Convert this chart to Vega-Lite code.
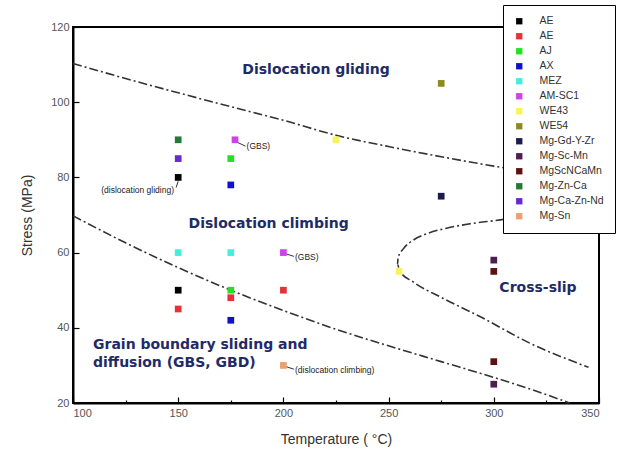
{
  "$schema": "https://vega.github.io/schema/vega-lite/v6.json",
  "autosize": {"type": "none"},
  "width": 526,
  "height": 376,
  "padding": {"left": 73, "top": 27, "right": 23, "bottom": 61},
  "background": "white",
  "config": {
    "view": {"stroke": "black", "strokeWidth": 2},
    "font": "Liberation Sans"
  },
  "datasets": {
    "curves": [
      {"curve": "upper", "ord": 1, "t": 100, "s": 110.3},
      {"curve": "upper", "ord": 2, "t": 125, "s": 106.3},
      {"curve": "upper", "ord": 3, "t": 150, "s": 102.5},
      {"curve": "upper", "ord": 4, "t": 175, "s": 98.8},
      {"curve": "upper", "ord": 5, "t": 200, "s": 95.2},
      {"curve": "upper", "ord": 6, "t": 225, "s": 91.2},
      {"curve": "upper", "ord": 7, "t": 250, "s": 88.2},
      {"curve": "upper", "ord": 8, "t": 275, "s": 85.5},
      {"curve": "upper", "ord": 9, "t": 300, "s": 83.0},
      {"curve": "upper", "ord": 10, "t": 325, "s": 80.8},
      {"curve": "upper", "ord": 11, "t": 350, "s": 78.7},
      {"curve": "lower", "ord": 1, "t": 100, "s": 69.8},
      {"curve": "lower", "ord": 2, "t": 125, "s": 62.6},
      {"curve": "lower", "ord": 3, "t": 150, "s": 56.0},
      {"curve": "lower", "ord": 4, "t": 175, "s": 50.0},
      {"curve": "lower", "ord": 5, "t": 200, "s": 44.6},
      {"curve": "lower", "ord": 6, "t": 225, "s": 39.6},
      {"curve": "lower", "ord": 7, "t": 250, "s": 35.2},
      {"curve": "lower", "ord": 8, "t": 275, "s": 31.0},
      {"curve": "lower", "ord": 9, "t": 300, "s": 26.8},
      {"curve": "lower", "ord": 10, "t": 320, "s": 23.2},
      {"curve": "lower", "ord": 11, "t": 336, "s": 20.0},
      {"curve": "cross", "ord": 1, "t": 345, "s": 72.4},
      {"curve": "cross", "ord": 2, "t": 320, "s": 70.2},
      {"curve": "cross", "ord": 3, "t": 303, "s": 68.7},
      {"curve": "cross", "ord": 4, "t": 288, "s": 67.6},
      {"curve": "cross", "ord": 5, "t": 277.6, "s": 66.5},
      {"curve": "cross", "ord": 6, "t": 268, "s": 65.0},
      {"curve": "cross", "ord": 7, "t": 261.7, "s": 63.3},
      {"curve": "cross", "ord": 8, "t": 257, "s": 61.0},
      {"curve": "cross", "ord": 9, "t": 254.5, "s": 58.6},
      {"curve": "cross", "ord": 10, "t": 254.2, "s": 56.8},
      {"curve": "cross", "ord": 11, "t": 255.4, "s": 55.0},
      {"curve": "cross", "ord": 12, "t": 261.7, "s": 52.2},
      {"curve": "cross", "ord": 13, "t": 276, "s": 47.8},
      {"curve": "cross", "ord": 14, "t": 293.4, "s": 43.0},
      {"curve": "cross", "ord": 15, "t": 317.2, "s": 35.9},
      {"curve": "cross", "ord": 16, "t": 345, "s": 29.5}
    ],
    "points": [
      {"alloy": "AE", "t": 150, "s": 80},
      {"alloy": "AE", "t": 150, "s": 50},
      {"alloy": "AE2", "t": 150, "s": 45},
      {"alloy": "AE2", "t": 175, "s": 48},
      {"alloy": "AE2", "t": 200, "s": 50},
      {"alloy": "AJ", "t": 175, "s": 85},
      {"alloy": "AJ", "t": 175, "s": 50},
      {"alloy": "AX", "t": 175, "s": 78},
      {"alloy": "AX", "t": 175, "s": 42},
      {"alloy": "MEZ", "t": 150, "s": 60},
      {"alloy": "MEZ", "t": 175, "s": 60},
      {"alloy": "AM-SC1", "t": 177, "s": 90},
      {"alloy": "AM-SC1", "t": 200, "s": 60},
      {"alloy": "WE43", "t": 225, "s": 90},
      {"alloy": "WE43", "t": 255, "s": 55},
      {"alloy": "WE54", "t": 275, "s": 105},
      {"alloy": "Mg-Gd-Y-Zr", "t": 275, "s": 75},
      {"alloy": "Mg-Sc-Mn", "t": 300, "s": 58},
      {"alloy": "Mg-Sc-Mn", "t": 300, "s": 25},
      {"alloy": "MgScNCaMn", "t": 300, "s": 55},
      {"alloy": "MgScNCaMn", "t": 300, "s": 31},
      {"alloy": "Mg-Zn-Ca", "t": 150, "s": 90},
      {"alloy": "Mg-Ca-Zn-Nd", "t": 150, "s": 85},
      {"alloy": "Mg-Sn", "t": 200, "s": 30}
    ],
    "leaders": [
      {"t": 177.5, "s": 89.5, "t2": 182, "s2": 88.3},
      {"t": 200.5, "s": 59.8, "t2": 205, "s2": 59.0},
      {"t": 200.5, "s": 29.8, "t2": 205, "s2": 29.0},
      {"t": 150, "s": 79, "t2": 149, "s2": 77.3}
    ],
    "regions": [
      {"label": "Dislocation gliding", "t": 215.5, "s": 108.6},
      {"label": "Dislocation climbing", "t": 193, "s": 67.6},
      {"label": "Cross-slip", "t": 321, "s": 50.6}
    ],
    "regionsLeft": [
      {"label": "Grain boundary sliding and", "t": 109.5, "s": 35.4},
      {"label": "diffusion (GBS, GBD)", "t": 109.5, "s": 30.6}
    ],
    "notesLeft": [
      {"label": "(GBS)", "t": 182.5, "s": 88.3},
      {"label": "(GBS)", "t": 205.5, "s": 58.8},
      {"label": "(dislocation climbing)", "t": 205.5, "s": 28.8}
    ],
    "notesRight": [
      {"label": "(dislocation gliding)", "t": 148, "s": 76.6}
    ]
  },
  "layer": [
    {
      "data": {"name": "curves"},
      "mark": {"type": "line", "color": "#333333", "strokeWidth": 1.6, "strokeDash": [9, 3, 2, 3], "interpolate": "monotone"},
      "encoding": {
        "x": {"field": "t", "type": "quantitative", "scale": {"domain": [100, 350], "nice": false},
          "axis": {
            "values": [100, 125, 150, 175, 200, 225, 250, 275, 300, 325, 350],
            "labelExpr": "datum.value % 50 === 0 ? datum.label : ''",
            "title": "Temperature ( °C)",
            "grid": false,
            "domainColor": "black", "domainWidth": 2,
            "tickColor": "black", "tickWidth": 1.2,
            "tickSize": {"condition": {"test": "datum.value % 50 === 0", "value": -6}, "value": -3},
            "labelFont": "Liberation Sans", "labelFontSize": 11, "labelColor": "#555555", "labelPadding": 10,
            "titleFont": "Liberation Sans", "titleFontSize": 14, "titleFontWeight": "normal", "titleColor": "#333333", "titlePadding": 14
          }
        },
        "y": {"field": "s", "type": "quantitative", "scale": {"domain": [20, 120], "nice": false},
          "axis": {
            "values": [20, 25, 30, 35, 40, 45, 50, 55, 60, 65, 70, 75, 80, 85, 90, 95, 100, 105, 110, 115, 120],
            "labelExpr": "datum.value % 10 === 0 ? datum.label : ''",
            "title": "Stress (MPa)",
            "grid": false,
            "domainColor": "black", "domainWidth": 2,
            "tickColor": "black", "tickWidth": 1.2,
            "tickSize": {"condition": {"test": "datum.value % 10 === 0", "value": -6}, "value": -3},
            "labelFont": "Liberation Sans", "labelFontSize": 11, "labelColor": "#555555", "labelPadding": 10,
            "titleFont": "Liberation Sans", "titleFontSize": 14, "titleFontWeight": "normal", "titleColor": "#333333", "titlePadding": 16
          }
        },
        "detail": {"field": "curve"},
        "order": {"field": "ord", "type": "quantitative"}
      }
    },
    {
      "data": {"name": "leaders"},
      "mark": {"type": "rule", "color": "#333333", "strokeWidth": 1},
      "encoding": {
        "x": {"field": "t", "type": "quantitative"},
        "y": {"field": "s", "type": "quantitative"},
        "x2": {"field": "t2"},
        "y2": {"field": "s2"}
      }
    },
    {
      "data": {"name": "points"},
      "mark": {"type": "point", "shape": "square", "filled": true, "size": 45, "opacity": 1},
      "encoding": {
        "x": {"field": "t", "type": "quantitative"},
        "y": {"field": "s", "type": "quantitative"},
        "color": {
          "field": "alloy", "type": "nominal",
          "scale": {
            "domain": ["AE", "AE2", "AJ", "AX", "MEZ", "AM-SC1", "WE43", "WE54", "Mg-Gd-Y-Zr", "Mg-Sc-Mn", "MgScNCaMn", "Mg-Zn-Ca", "Mg-Ca-Zn-Nd", "Mg-Sn"],
            "range": ["#000000", "#e8303a", "#22e022", "#1010d0", "#44eedd", "#cc44e8", "#f6f35c", "#8c8c1e", "#1c1c48", "#4e1e4e", "#5a1212", "#237a35", "#6a28d0", "#eca070"]
          },
          "legend": {
            "title": null,
            "orient": "none",
            "legendX": 430,
            "legendY": -22,
            "labelExpr": "datum.label === 'AE2' ? 'AE' : datum.label",
            "symbolType": "square",
            "symbolSize": 40,
            "labelFont": "Liberation Sans",
            "labelFontSize": 10.5,
            "labelColor": "#333333",
            "labelOffset": 15,
            "rowPadding": 4.0,
            "padding": 11,
            "strokeColor": "black",
            "fillColor": "white"
          }
        }
      }
    },
    {
      "data": {"name": "regions"},
      "mark": {"type": "text", "font": "DejaVu Sans", "fontWeight": "bold", "fontSize": 14, "color": "#1f2b66", "align": "center", "baseline": "middle"},
      "encoding": {
        "x": {"field": "t", "type": "quantitative"},
        "y": {"field": "s", "type": "quantitative"},
        "text": {"field": "label"}
      }
    },
    {
      "data": {"name": "regionsLeft"},
      "mark": {"type": "text", "font": "DejaVu Sans", "fontWeight": "bold", "fontSize": 14, "color": "#1f2b66", "align": "left", "baseline": "middle"},
      "encoding": {
        "x": {"field": "t", "type": "quantitative"},
        "y": {"field": "s", "type": "quantitative"},
        "text": {"field": "label"}
      }
    },
    {
      "data": {"name": "notesLeft"},
      "mark": {"type": "text", "font": "Liberation Sans", "fontSize": 8.5, "color": "#222222", "align": "left", "baseline": "middle"},
      "encoding": {
        "x": {"field": "t", "type": "quantitative"},
        "y": {"field": "s", "type": "quantitative"},
        "text": {"field": "label"}
      }
    },
    {
      "data": {"name": "notesRight"},
      "mark": {"type": "text", "font": "Liberation Sans", "fontSize": 8.5, "color": "#222222", "align": "right", "baseline": "middle"},
      "encoding": {
        "x": {"field": "t", "type": "quantitative"},
        "y": {"field": "s", "type": "quantitative"},
        "text": {"field": "label"}
      }
    }
  ]
}
